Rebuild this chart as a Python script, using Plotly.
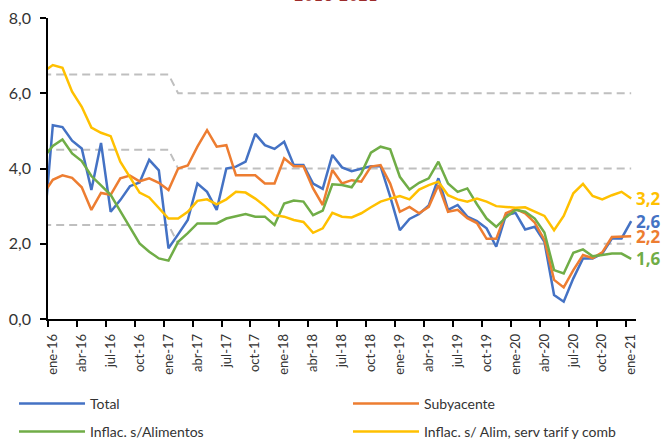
import plotly.graph_objects as go

# Month index: -1 = dic-15, 0 = ene-16 ... 60 = ene-21
month_idx = list(range(-1, 61))

total = [2.15, 5.15, 5.10, 4.74, 4.53, 3.43, 4.68, 2.85, 3.16, 3.53, 3.63, 4.23, 3.95, 1.88,
         2.25, 2.63, 3.60, 3.38, 2.90, 4.00, 4.05, 4.18, 4.92, 4.62, 4.52, 4.71, 4.09, 4.09,
         3.60, 3.46, 4.36, 4.03, 3.93, 4.00, 4.06, 4.06, 3.25, 2.36, 2.66, 2.79, 3.02, 3.74,
         2.90, 3.03, 2.72, 2.60, 2.41, 1.92, 2.76, 2.82, 2.38, 2.45, 2.05, 0.64, 0.46, 1.08,
         1.61, 1.61, 1.74, 2.14, 2.14, 2.60]

subyacente = [3.32, 3.70, 3.82, 3.75, 3.50, 2.90, 3.35, 3.30, 3.74, 3.81, 3.66, 3.74, 3.62,
              3.43, 4.00, 4.08, 4.58, 5.02, 4.58, 4.62, 3.82, 3.82, 3.82, 3.60, 3.60, 4.27,
              4.06, 4.06, 3.47, 3.03, 3.96, 3.60, 3.69, 3.65, 4.05, 4.09, 3.60, 2.85, 2.98,
              2.81, 2.98, 3.56, 2.85, 2.90, 2.68, 2.55, 2.13, 2.13, 2.81, 2.93, 2.81, 2.56,
              2.10, 1.04, 0.84, 1.30, 1.70, 1.62, 1.77, 2.18, 2.20, 2.20]

s_alimentos = [4.28, 4.60, 4.77, 4.40, 4.20, 3.80, 3.55, 3.30, 2.87, 2.45, 2.01, 1.79, 1.61,
               1.55, 2.05, 2.28, 2.54, 2.54, 2.54, 2.67, 2.74, 2.79, 2.72, 2.72, 2.50, 3.07,
               3.15, 3.12, 2.76, 2.88, 3.58, 3.56, 3.50, 3.87, 4.42, 4.58, 4.51, 3.78, 3.44,
               3.62, 3.74, 4.18, 3.60, 3.38, 3.47, 3.05, 2.67, 2.45, 2.70, 2.90, 2.85, 2.67,
               2.30, 1.30, 1.21, 1.76, 1.85, 1.67, 1.70, 1.74, 1.74, 1.60]

s_alim_serv_comb = [6.57, 6.75, 6.68, 6.04, 5.64, 5.09, 4.95, 4.86, 4.18, 3.78, 3.36, 3.23,
                    2.94, 2.67, 2.67, 2.85, 3.14, 3.18, 3.05, 3.18, 3.38, 3.36, 3.20, 3.00,
                    2.76, 2.72, 2.63, 2.58, 2.29, 2.41, 2.82, 2.72, 2.70, 2.81, 2.97, 3.12,
                    3.20, 3.27, 3.18, 3.44, 3.56, 3.65, 3.29, 3.18, 3.12, 3.20, 3.12, 3.00,
                    2.98, 2.96, 2.97, 2.85, 2.74, 2.36, 2.74, 3.34, 3.59, 3.27, 3.18, 3.29,
                    3.38, 3.20]

band_upper = [6.5] * 14 + [6.0] * 48
band_center = [4.5] * 14 + [4.0] * 48
band_lower = [2.5] * 14 + [2.0] * 48

end_labels = ["2,6", "2,2", "1,6", "3,2"]

tick_idx = list(range(0, 61, 3))
tick_labels = ["ene-16", "abr-16", "jul-16", "oct-16", "ene-17", "abr-17", "jul-17", "oct-17",
               "ene-18", "abr-18", "jul-18", "oct-18", "ene-19", "abr-19", "jul-19", "oct-19",
               "ene-20", "abr-20", "jul-20", "oct-20", "ene-21"]
boundary_idx = [v - 0.5 for v in range(0, 61, 3)]

FONT = "Lato, Open Sans, Arial"
fig = go.Figure()

for band in (band_upper, band_center, band_lower):
    fig.add_trace(go.Scatter(x=month_idx, y=band, mode="lines", showlegend=False,
                             hoverinfo="skip",
                             line=dict(color="#BFBFBF", width=2, dash="8px,5px")))

series = [
    ("Total", total, "#4472C4", "legend", end_labels[0]),
    ("Subyacente", subyacente, "#ED7D31", "legend2", end_labels[1]),
    ("Inflac. s/Alimentos", s_alimentos, "#70AD47", "legend3", end_labels[2]),
    ("Inflac. s/ Alim, serv tarif y comb", s_alim_serv_comb, "#FFC000", "legend4", end_labels[3]),
]
for name, vals, col, leg, lab in series:
    fig.add_trace(go.Scatter(x=month_idx, y=vals, name=name, mode="lines",
                             line=dict(color=col, width=2.5), legend=leg))
    fig.add_annotation(x=month_idx[-1], y=vals[-1], text="<b>" + lab + "</b>", showarrow=False,
                       xanchor="left", yanchor="middle", xshift=3,
                       font=dict(color=col, size=17, family="Open Sans"))

fig.add_annotation(text="<b>2016-2021</b>", xref="paper", yref="paper", x=0.49, y=1.072,
                   yanchor="middle", showarrow=False,
                   font=dict(size=14, color="#9C2B2B", family="DejaVu Serif"))

leg_common = dict(orientation="h", xref="paper", yref="paper",
                  xanchor="left", yanchor="middle", itemwidth=66,
                  font=dict(size=14, color="#333333", family=FONT),
                  bgcolor="rgba(0,0,0,0)")

fig.update_layout(
    width=664, height=440,
    margin=dict(l=48, r=28, t=18, b=121, autoexpand=False),
    plot_bgcolor="white", paper_bgcolor="white",
    separators=",.",
    legend=dict(**leg_common, x=-0.0578, y=-0.2824),
    legend2=dict(**leg_common, x=0.5102, y=-0.2824),
    legend3=dict(**leg_common, x=-0.0578, y=-0.3754),
    legend4=dict(**leg_common, x=0.5102, y=-0.3754),
    xaxis=dict(range=[-0.5, 60.5], tickmode="array", tickvals=tick_idx, ticktext=tick_labels,
               tickangle=-90, ticks="", showgrid=False, zeroline=False, showline=True,
               linecolor="black", linewidth=1.5, ticklabelstandoff=8,
               tickfont=dict(size=13, color="#333333", family=FONT),
               minor=dict(tickmode="array", tickvals=boundary_idx, ticks="outside",
                          ticklen=6, tickcolor="black", tickwidth=1.5, showgrid=False)),
    yaxis=dict(range=[0, 8], tickmode="array", tickvals=[0, 2, 4, 6, 8], tickformat=".1f",
               ticks="outside", ticklen=6, tickcolor="black", tickwidth=1.5,
               ticklabelstandoff=6,
               showgrid=False, zeroline=False, showline=True, linecolor="black", linewidth=1.5,
               tickfont=dict(size=16, color="#333333", family=FONT)),
)

fig.write_html("out.html", config={"displayModeBar": False},
               post_script="document.body.style.margin='0';")
